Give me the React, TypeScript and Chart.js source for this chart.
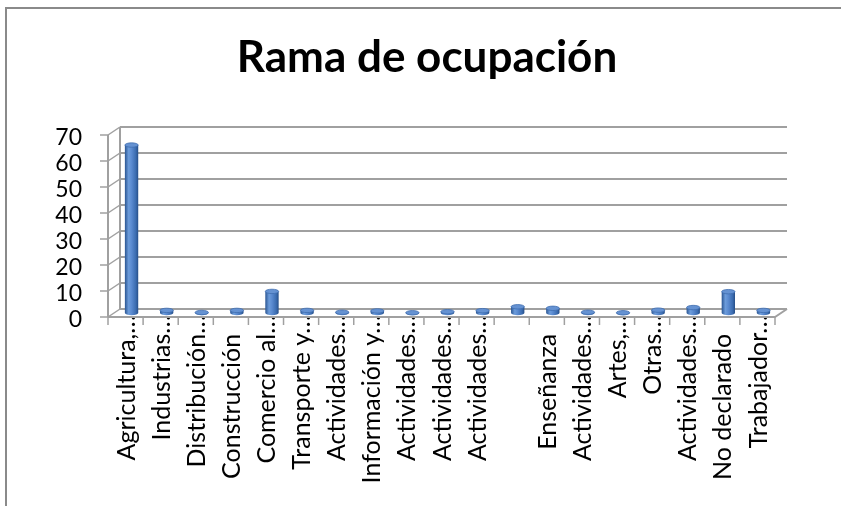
import React, { useEffect, useRef } from "react";
import { Chart, registerables } from "chart.js";

Chart.register(...registerables);

const titleText = "Rama de ocupación";

const categories = [
  "Agricultura,…",
  "Industrias…",
  "Distribución…",
  "Construcción",
  "Comercio al…",
  "Transporte y…",
  "Actividades…",
  "Información y…",
  "Actividades…",
  "Actividades…",
  "Actividades…",
  "",
  "Enseñanza",
  "Actividades…",
  "Artes,…",
  "Otras…",
  "Actividades…",
  "No declarado",
  "Trabajador…",
];

const values = [
  64.6, 1.0, 0.2, 1.0, 8.3, 1.0, 0.3, 0.8, 0.1, 0.5, 0.9, 2.4, 1.8, 0.3, 0.1,
  1.1, 2.1, 8.2, 1.0,
];

const yMin = 0;
const yMax = 70;
const yStep = 10;

const FONT = "Lato, 'Noto Sans', sans-serif";

export default function App() {
  const ref = useRef<HTMLCanvasElement>(null);

  useEffect(() => {
    document.body.style.margin = "0";
    document.documentElement.style.overflow = "hidden";
    const canvas = ref.current;
    if (!canvas) return;

    const DX = 6;
    const DY = 4;
    const BAR_PCT = 0.38;
    const GRID = "#a0a0a0";

    const barGeom = (chart: any, i: number) => {
      const x = chart.scales.x;
      const cat = x.getPixelForValue(1) - x.getPixelForValue(0);
      return { cx: x.getPixelForValue(i), w: cat * BAR_PCT, cat };
    };

    const makeGrad = (ctx: CanvasRenderingContext2D, cx: number, w: number) => {
      const g = ctx.createLinearGradient(cx - w / 2, 0, cx + w / 2, 0);
      g.addColorStop(0, "#2a5592");
      g.addColorStop(0.28, "#6c9cdb");
      g.addColorStop(0.5, "#5a8ad0");
      g.addColorStop(0.82, "#3b6cb0");
      g.addColorStop(1, "#264e87");
      return g;
    };

    const framePlugin = {
      id: "frameAndTitle",
      beforeDraw(chart: any) {
        const ctx = chart.ctx;
        ctx.save();
        ctx.fillStyle = "#fff";
        ctx.fillRect(0, 0, chart.width, chart.height);
        ctx.strokeStyle = "#8a8a8a";
        ctx.lineWidth = 2;
        ctx.beginPath();
        ctx.moveTo(6, chart.height);
        ctx.lineTo(6, 8);
        ctx.lineTo(chart.width, 8);
        ctx.stroke();
        ctx.restore();
      },
      afterDraw(chart: any) {
        const ctx = chart.ctx;
        ctx.save();
        ctx.fillStyle = "#000";
        ctx.font = `bold 44px ${FONT}`;
        ctx.textAlign = "center";
        ctx.textBaseline = "alphabetic";
        ctx.fillText(titleText, 427, 72);
        ctx.restore();
      },
    };

    const wall3d = {
      id: "wall3d",
      beforeDatasetsDraw(chart: any) {
        const ctx = chart.ctx;
        const { left, right, top, bottom } = chart.chartArea;
        const y = chart.scales.y;
        const x = chart.scales.x;
        ctx.save();
        ctx.strokeStyle = GRID;
        ctx.lineCap = "butt";
        y.ticks.forEach((t: any) => {
          const py = y.getPixelForValue(t.value);
          ctx.lineWidth = 2;
          ctx.beginPath();
          ctx.moveTo(left + DX, py - DY);
          ctx.lineTo(right + DX, py - DY);
          ctx.stroke();
          ctx.lineWidth = 1.5;
          ctx.beginPath();
          ctx.moveTo(left - DX, py + DY);
          ctx.lineTo(left + DX, py - DY);
          ctx.stroke();
          ctx.beginPath();
          ctx.moveTo(left - DX - 8, py + DY);
          ctx.lineTo(left - DX, py + DY);
          ctx.stroke();
        });
        ctx.lineWidth = 2;
        ctx.beginPath();
        ctx.moveTo(left + DX, top - DY);
        ctx.lineTo(left + DX, bottom - DY);
        ctx.stroke();
        ctx.beginPath();
        ctx.moveTo(left - DX, top + DY);
        ctx.lineTo(left - DX, bottom + DY);
        ctx.stroke();
        ctx.beginPath();
        ctx.moveTo(left - DX, bottom + DY);
        ctx.lineTo(right - DX, bottom + DY);
        ctx.lineTo(right + DX, bottom - DY);
        ctx.stroke();
        const n = categories.length;
        const half = (x.getPixelForValue(1) - x.getPixelForValue(0)) / 2;
        ctx.lineWidth = 1.5;
        for (let i = 0; i <= n; i++) {
          const px = x.getPixelForValue(i) - half - DX;
          ctx.beginPath();
          ctx.moveTo(px, bottom + DY);
          ctx.lineTo(px, bottom + DY + 8);
          ctx.stroke();
        }
        ctx.restore();
      },
      afterDatasetsDraw(chart: any) {
        const ctx = chart.ctx;
        const y = chart.scales.y;
        const base = y.getPixelForValue(0);
        ctx.save();
        values.forEach((v, i) => {
          const { cx, w } = barGeom(chart, i);
          const py = y.getPixelForValue(v);
          const rx = w / 2;
          const ry = 2.2;
          ctx.fillStyle = makeGrad(ctx, cx, w);
          ctx.beginPath();
          ctx.ellipse(cx, base, rx, ry, 0, 0, Math.PI);
          ctx.fill();
          ctx.fillStyle = "#6592d2";
          ctx.strokeStyle = "#3f6db0";
          ctx.lineWidth = 0.8;
          ctx.beginPath();
          ctx.ellipse(cx, py, rx, ry, 0, 0, Math.PI * 2);
          ctx.fill();
          ctx.stroke();
        });
        ctx.restore();
      },
    };

    const chart = new Chart(canvas, {
      type: "bar",
      data: {
        labels: categories,
        datasets: [
          {
            data: values,
            borderWidth: 0,
            barPercentage: BAR_PCT,
            categoryPercentage: 1,
            backgroundColor: (c: any) => {
              const ch = c.chart;
              if (!ch.scales || !ch.scales.x || c.dataIndex === undefined)
                return "#4a7bc0";
              const { cx, w } = barGeom(ch, c.dataIndex);
              if (!isFinite(cx) || !isFinite(w) || w <= 0) return "#4a7bc0";
              return makeGrad(ch.ctx, cx, w);
            },
          },
        ],
      },
      options: {
        responsive: false,
        animation: false,
        layout: { padding: { left: 14, right: 60, top: 131, bottom: 0 } },
        plugins: {
          legend: { display: false },
          tooltip: { enabled: false },
          title: { display: false },
        },
        scales: {
          x: {
            grid: { display: false, drawTicks: false },
            border: { display: false },
            ticks: {
              autoSkip: false,
              maxRotation: 90,
              minRotation: 90,
              padding: 2,
              labelOffset: -5,
              color: "#000",
              font: { family: FONT, size: 25 },
              callback: (_v: any, i: number) => {
                const l = categories[i];
                return l.endsWith("…") || l === "" ? l : l + "\u2003";
              },
            },
            afterFit: (s: any) => {
              s.height = 193;
            },
          },
          y: {
            min: yMin,
            max: yMax,
            grid: { display: false, drawTicks: false },
            border: { display: false },
            ticks: {
              autoSkip: false,
              stepSize: yStep,
              padding: 32,
              labelOffset: 7,
              color: "#000",
              font: { family: FONT, size: 23 },
            },
            afterFit: (s: any) => {
              s.width = 100;
            },
          },
        },
      },
      plugins: [framePlugin, wall3d],
    });

    return () => chart.destroy();
  }, []);

  return (
    <div
      style={{
        position: "fixed",
        left: 0,
        top: 0,
        width: 841,
        height: 506,
        background: "#fff",
        overflow: "hidden",
      }}
    >
      <canvas
        ref={ref}
        width={841}
        height={506}
        style={{ position: "absolute", left: 0, top: 0 }}
      />
    </div>
  );
}
